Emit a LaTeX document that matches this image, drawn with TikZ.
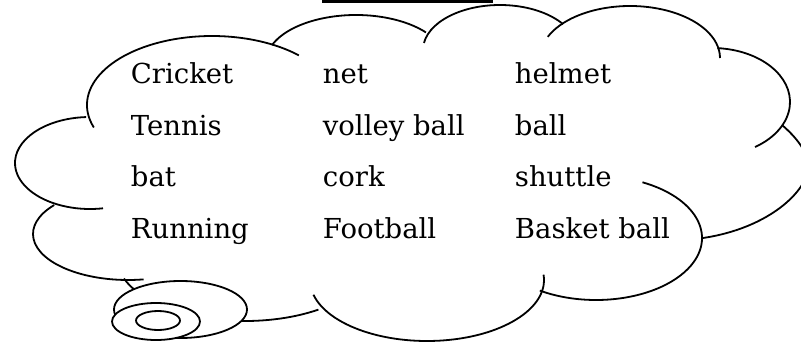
\documentclass[tikz,border=0pt]{standalone}
\usepackage{fontspec}
\setmainfont{DejaVu Serif}
\usepackage{tikz}
\usetikzlibrary{positioning}

\begin{document}
\begin{tikzpicture}[x=1pt, y=-1pt, line width=1.8pt,
    word/.style={anchor=base west, inner sep=0pt, font=\fontsize{27.5}{33}\selectfont}]
    \clip (0, 0) rectangle (801, 343);

    % rule of the heading above
    \fill (322, 0) rectangle (493, 2.7);

    % the cloud, bump by bump (clockwise from the top left)
    \draw (212, 105) ++(161:125 and 69) arc[start angle=161, end angle=314, x radius=125, y radius=69];
    \draw (356, 62) ++(201:90 and 47) arc[start angle=201, end angle=321, x radius=90, y radius=47];
    \draw (500, 50) ++(189:77 and 45) arc[start angle=189, end angle=325, x radius=77, y radius=45];
    \draw (630, 58) ++(204:90 and 52) arc[start angle=204, end angle=360, x radius=90, y radius=52];
    \draw (712, 102) ++(274:78 and 54) arc[start angle=274, end angle=416.5, x radius=78, y radius=54];
    \draw (782, 125) .. controls (797, 138) and (808, 152) .. (808, 167)
        .. controls (808, 190) and (770, 228) .. (703, 238);
    \draw (596, 238) ++(296:106 and 62) arc[start angle=296, end angle=482, x radius=106, y radius=62];
    \draw (427, 280) ++(-5:117 and 61) arc[start angle=-5, end angle=166, x radius=117, y radius=61];
    \draw (245, 258) ++(161:128 and 63) arc[start angle=161, end angle=55, x radius=128, y radius=63];
    \draw (128, 234) ++(219:95 and 46) arc[start angle=219, end angle=80.6, x radius=95, y radius=46];
    \draw (90, 163) ++(267:75 and 46) arc[start angle=267, end angle=80, x radius=75, y radius=46];

    % the tail
    \draw[fill=white] (180.5, 309.5) ellipse [x radius=66.5, y radius=28.5];
    \draw[fill=white] (156, 321.5) ellipse [x radius=44, y radius=18.5];
    \draw (158, 320.5) ellipse [x radius=22, y radius=9.5];

    % words
    \node[word] (cricket) at (130, 83) {Cricket};
    \node[word] (net) at (322, 83) {net};
    \node[word] (helmet) at (514, 83) {helmet};
    \node[word] (tennis) at (130, 135) {Tennis};
    \node[word] (volley) at (322, 135) {volley ball};
    \node[word] (ball) at (514, 135) {ball};
    \node[word] (bat) at (130, 186.5) {bat};
    \node[word] (cork) at (322, 186.5) {cork};
    \node[word] (shuttle) at (514, 186.5) {shuttle};
    \node[word] (running) at (130, 238) {Running};
    \node[word] (football) at (322, 238) {Football};
    \node[word] (basket) at (514, 238) {Basket ball};
\end{tikzpicture}
\end{document}
